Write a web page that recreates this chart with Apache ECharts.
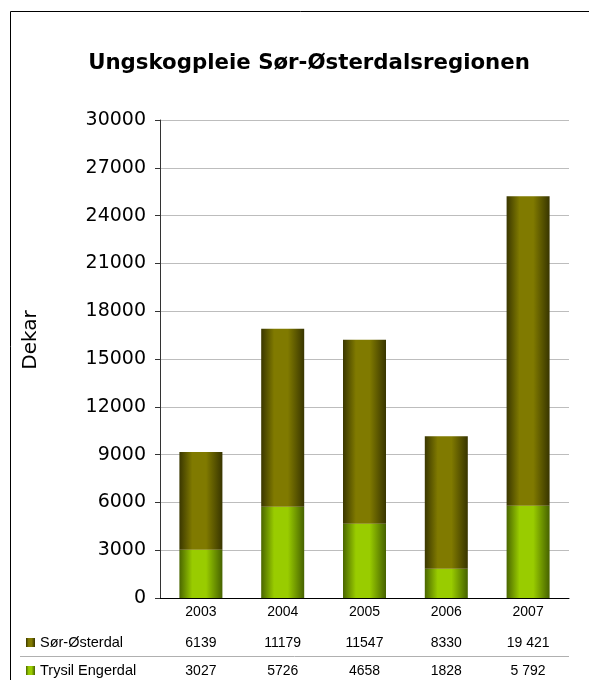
<!DOCTYPE html>
<html>
<head>
<meta charset="utf-8">
<script src="https://cdn.jsdelivr.net/npm/echarts@6/dist/echarts.min.js"></script>
<style>
html,body{margin:0;padding:0;background:#fff;}
#chart{width:589px;height:680px;}
</style>
</head>
<body>
<div id="chart"></div>
<script>
// ---- data ----
const years = ['2003', '2004', '2005', '2006', '2007'];
const sorOsterdal = [6139, 11179, 11547, 8330, 19421];
const trysilEngerdal = [3027, 5726, 4658, 1828, 5792];
const sorOsterdalTable = ['6139', '11179', '11547', '8330', '19 421'];
const trysilEngerdalTable = ['3027', '5726', '4658', '1828', '5 792'];
const seriesNames = ['Sør-Østerdal', 'Trysil Engerdal'];
const yTicks = { min: 0, max: 30000, interval: 3000 };

const chart = echarts.init(document.getElementById('chart'), null, { renderer: 'canvas' });

function grad(edgeL, mid, edgeR) {
  return new echarts.graphic.LinearGradient(0, 0, 1, 0, [
    { offset: 0, color: edgeL },
    { offset: 0.3, color: mid },
    { offset: 0.62, color: mid },
    { offset: 1, color: edgeR }
  ]);
}
const oliveGrad = grad('#3a3700', '#807a00', '#383500');
const greenGrad = grad('#4a6600', '#99cc00', '#466200');

const sansFont = '"Liberation Sans", Arial, sans-serif';
const vFont = '"DejaVu Sans", Verdana, sans-serif';

function legendFor(name, top) {
  return {
    data: [name],
    orient: 'horizontal',
    left: 26,
    top: top,
    padding: 0,
    itemWidth: 9,
    itemHeight: 9,
    icon: 'rect',
    textStyle: { fontFamily: sansFont, fontSize: 14.5, color: '#000' },
    selectedMode: false
  };
}

const option = {
  animation: false,
  backgroundColor: '#fff',
  title: {
    text: 'Ungskogpleie Sør-Østerdalsregionen',
    left: 304,
    textAlign: 'center',
    top: 48,
    textStyle: { fontFamily: vFont, fontWeight: 'bold', fontSize: 21.3, color: '#000' }
  },
  legend: [legendFor(seriesNames[0], 635), legendFor(seriesNames[1], 663)],
  grid: { left: 160, right: 20, top: 120, bottom: 82, containLabel: false },
  xAxis: {
    type: 'category',
    data: years,
    axisLine: { lineStyle: { color: '#000', width: 1 } },
    axisTick: { show: false },
    axisLabel: {
      margin: 4,
      interval: 0,
      formatter: function (v, i) {
        return '{y|' + v + '}\n{a|' + sorOsterdalTable[i] + '}\n{b|' + trysilEngerdalTable[i] + '}';
      },
      rich: {
        y: { fontFamily: sansFont, fontSize: 14, color: '#000', lineHeight: 20 },
        a: { fontFamily: sansFont, fontSize: 14, color: '#000', lineHeight: 42 },
        b: { fontFamily: sansFont, fontSize: 14, color: '#000', lineHeight: 14 }
      }
    }
  },
  yAxis: {
    type: 'value',
    min: yTicks.min,
    max: yTicks.max,
    interval: yTicks.interval,
    axisLine: { show: true, lineStyle: { color: '#333', width: 1 } },
    axisTick: { show: true, length: 5, lineStyle: { color: '#333' } },
    axisLabel: {
      margin: 14, fontFamily: vFont, fontSize: 19, color: '#000',
      formatter: function (v) { return String(v); }
    },
    splitLine: { lineStyle: { color: '#bdbdbd', width: 1 } }
  },
  series: [
    {
      name: seriesNames[1],
      type: 'bar',
      stack: 'total',
      barWidth: 43,
      data: trysilEngerdal,
      itemStyle: { color: greenGrad }
    },
    {
      name: seriesNames[0],
      type: 'bar',
      stack: 'total',
      barWidth: 43,
      data: sorOsterdal,
      itemStyle: { color: oliveGrad }
    }
  ],
  graphic: [
    {
      type: 'rect',
      shape: { x: 10.5, y: 11.5, width: 800, height: 800 },
      style: { fill: null, stroke: '#000', lineWidth: 1 },
      silent: true
    },
    {
      type: 'line',
      shape: { x1: 20, y1: 656.5, x2: 569, y2: 656.5 },
      style: { stroke: '#b0b0b0', lineWidth: 1 },
      silent: true
    },
    {
      type: 'text',
      x: 31,
      y: 340,
      rotation: Math.PI / 2,
      style: {
        text: 'Dekar',
        fontFamily: vFont,
        fontSize: 20,
        fill: '#000',
        textAlign: 'center',
        textVerticalAlign: 'middle'
      },
      silent: true
    }
  ]
};
chart.setOption(option);
</script>
</body>
</html>
